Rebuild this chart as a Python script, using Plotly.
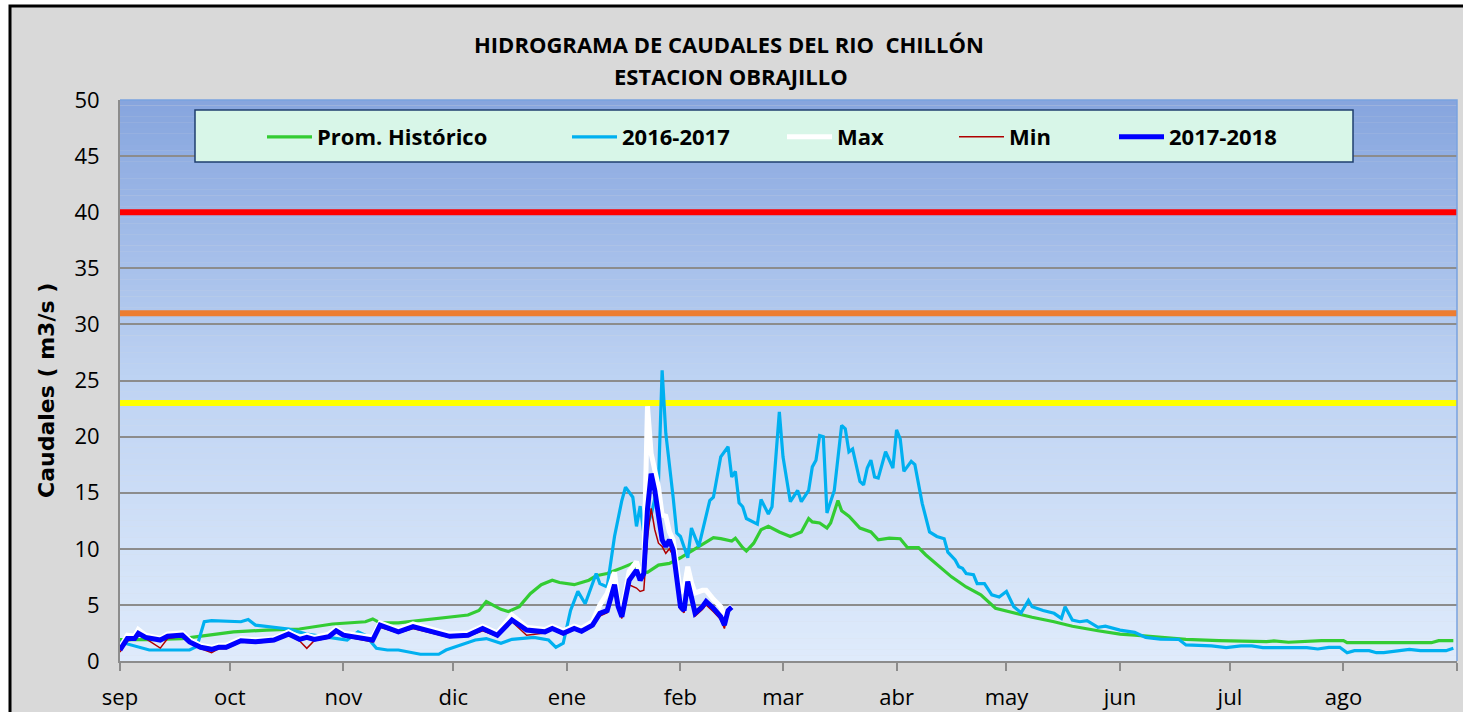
import pandas as pd
import plotly.graph_objects as go

INICIO = pd.Timestamp("2017-09-01")

# ---------------- data (day offset from 1-sep, caudal m3/s) ----------------
prom_dias = [0, 8, 17, 22, 31, 40, 49, 58, 67, 69, 71, 76, 85, 95, 98, 100, 104, 106, 109, 112,
             115, 118, 120, 124, 126, 128, 130, 133, 137, 140, 142, 144, 147, 150, 153, 158, 162, 164,
             167, 168, 170, 171, 173, 175, 177, 180, 183, 186, 188, 189, 191, 193, 194, 196, 197, 199,
             202, 205, 207, 210, 213, 215, 218, 220, 224, 227, 231, 235, 239, 244, 249, 255, 260, 267,
             273, 277, 286, 291, 300, 313, 315, 319, 328, 334, 335, 358, 360, 364]
prom_q = [1.9, 1.9, 2.0, 2.2, 2.6, 2.75, 2.85, 3.3, 3.5, 3.75, 3.4, 3.4, 3.7, 4.1, 4.5, 5.3, 4.6, 4.4, 4.85, 6.0,
          6.8, 7.2, 7.0, 6.8, 7.0, 7.2, 7.6, 7.8, 8.3, 8.7, 8.0, 7.9, 8.55, 8.7, 9.2, 10.2, 11.0, 10.9,
          10.7, 10.95, 10.1, 9.8, 10.5, 11.7, 12.0, 11.5, 11.1, 11.5, 12.7, 12.4, 12.3, 11.85, 12.3, 14.3, 13.4, 12.9,
          11.85, 11.5, 10.8, 10.95, 10.9, 10.1, 10.1, 9.45, 8.3, 7.5, 6.6, 5.9, 4.7, 4.3, 3.9, 3.5, 3.1, 2.7,
          2.4, 2.3, 2.1, 1.93, 1.81, 1.72, 1.8, 1.67, 1.81, 1.81, 1.63, 1.63, 1.81, 1.81]

q1617_dias = [0, 3, 8, 19, 21, 23, 25, 33, 35, 37, 40, 46, 51, 55, 58, 62, 65, 67, 70, 73,
              76, 82, 87, 89, 93, 97, 100, 104, 107, 113, 117, 119, 121, 123, 125, 127, 130, 131, 133, 135,
              137, 138, 140, 141, 142, 143, 145, 147, 148, 149, 151, 152, 153, 155, 156, 158, 161, 162, 164, 166,
              167, 168, 169, 170, 171, 174, 175, 177, 178, 180, 181, 183, 185, 186, 188, 189, 190, 191, 192, 193,
              195, 197, 198, 199, 200, 202, 203, 204, 205, 206, 207, 209, 211, 212, 213, 214, 216, 217, 219, 221,
              223, 225, 226, 228, 229, 230, 231, 233, 234, 236, 238, 240, 242, 244, 246, 248, 249, 252, 255, 257,
              258, 260, 262, 264, 267, 269, 273, 277, 280, 284, 289, 291, 298, 302, 306, 309, 312, 324, 327, 330,
              333, 335, 337, 341, 343, 345, 352, 355, 362, 364]
q1617 = [1.7, 1.43, 0.98, 0.98, 1.3, 3.5, 3.6, 3.5, 3.7, 3.2, 3.06, 2.85, 2.4, 2.2, 2.0, 1.87, 2.6, 2.3, 1.13, 0.98,
         0.98, 0.6, 0.6, 0.98, 1.43, 1.87, 2.0, 1.58, 1.93, 2.1, 1.87, 1.22, 1.58, 4.5, 6.2, 5.1, 7.8, 6.9, 6.6, 11.1,
         14.3, 15.5, 14.6, 12.0, 13.8, 11.4, 13.0, 15.9, 25.9, 20.3, 14.6, 11.4, 11.1, 9.2, 11.85, 10.2, 14.3, 14.6, 18.2, 19.1,
         16.4, 16.9, 14.1, 13.75, 12.7, 12.2, 14.4, 13.1, 13.75, 22.2, 18.2, 14.2, 15.2, 14.2, 15.2, 17.3, 17.9, 20.1, 20.0, 13.2,
         15.2, 21.0, 20.7, 18.65, 18.9, 16.0, 15.7, 17.2, 17.9, 16.4, 16.3, 18.65, 17.2, 20.6, 19.8, 16.9, 17.8, 17.5, 14.05, 11.5,
         11.1, 10.9, 9.7, 9.0, 8.4, 8.26, 7.8, 7.7, 6.9, 6.9, 5.9, 5.7, 6.2, 4.84, 4.3, 5.4, 4.84, 4.5, 4.25, 3.8,
         4.84, 3.65, 3.5, 3.6, 3.0, 3.1, 2.75, 2.55, 2.1, 1.95, 1.93, 1.43, 1.34, 1.19, 1.34, 1.34, 1.19, 1.19, 1.07, 1.22,
         1.22, 0.74, 0.92, 0.92, 0.74, 0.74, 1.04, 0.92, 0.92, 1.13]

q1718_dias = [0, 2, 4, 5, 7, 11, 13, 16, 17, 19, 22, 25, 27, 29, 33, 37, 42, 46, 49, 51,
              53, 57, 59, 61, 66, 69, 71, 74, 76, 80, 85, 90, 95, 99, 103, 107, 111, 116, 118, 121,
              124, 126, 129, 131, 133, 135, 136, 137, 139, 141, 142, 143, 144, 145, 146, 147, 148, 149, 150, 151,
              152, 153, 154, 155, 156, 157, 159, 160, 162, 164, 165, 166, 167]
q1718 = [0.98, 2.0, 2.0, 2.47, 2.1, 1.87, 2.2, 2.2, 2.3, 1.7, 1.22, 1.04, 1.22, 1.22, 1.81, 1.72, 1.87, 2.4, 1.93, 2.1,
         1.93, 2.17, 2.7, 2.3, 2.0, 1.87, 3.2, 2.9, 2.6, 3.06, 2.6, 2.2, 2.3, 2.9, 2.3, 3.65, 2.76, 2.6, 2.9, 2.47,
         2.9, 2.65, 3.2, 4.25, 4.5, 6.8, 4.84, 3.95, 7.2, 8.1, 7.2, 7.8, 13.5, 16.7, 15.2, 12.6, 10.8, 10.2, 10.8, 9.9,
         7.5, 4.84, 4.5, 7.07, 5.7, 4.25, 4.84, 5.3, 4.7, 3.95, 3.2, 4.5, 4.8]
qmax = [1.2, 2.3, 2.2, 2.8, 2.3, 2.0, 2.4, 2.4, 2.5, 1.9, 1.4, 1.2, 1.4, 1.4, 2.0, 1.9, 2.0, 2.6, 2.1, 2.3,
        2.1, 2.4, 2.9, 2.5, 2.2, 2.1, 3.4, 3.1, 2.8, 3.3, 2.8, 2.4, 2.5, 3.1, 2.5, 4.1, 3.0, 2.8, 3.1, 2.7,
        3.1, 2.9, 3.5, 5.0, 6.0, 7.9, 5.2, 4.3, 8.0, 8.85, 7.8, 8.4, 22.7, 18.5, 17.0, 15.5, 13.0, 12.9, 11.5, 10.8,
        8.5, 6.06, 6.5, 8.4, 7.0, 6.06, 6.3, 6.3, 5.5, 4.84, 4.0, 4.6, 4.9]
qmin = [0.8, 1.8, 1.9, 2.3, 2.0, 1.15, 2.0, 2.1, 2.2, 1.6, 1.1, 0.74, 1.1, 1.1, 1.7, 1.6, 1.75, 2.3, 1.8, 1.13,
        1.8, 2.05, 2.6, 2.2, 1.9, 1.7, 3.0, 2.7, 2.5, 2.9, 2.5, 2.1, 2.2, 2.7, 2.2, 3.5, 2.3, 2.5, 2.8, 2.35,
        2.8, 2.55, 3.05, 4.0, 4.3, 6.4, 4.6, 3.8, 6.8, 6.5, 6.2, 6.3, 11.0, 13.6, 11.7, 10.5, 10.2, 9.6, 10.0, 9.4,
        7.0, 4.6, 4.3, 6.7, 5.3, 4.0, 4.6, 5.0, 4.4, 3.7, 2.9, 4.3, 4.7]

umbrales = [40, 31, 23]
umbral_colores = ["#ff0000", "#ed7d31", "#ffff00"]

mes_inicio = ["2017-09-01", "2017-10-01", "2017-11-01", "2017-12-01", "2018-01-01", "2018-02-01",
              "2018-03-01", "2018-04-01", "2018-05-01", "2018-06-01", "2018-07-01", "2018-08-01", "2018-09-01"]
mes_txt = ["sep", "oct", "nov", "dic", "ene", "feb", "mar", "abr", "may", "jun", "jul", "ago", ""]
rango_x = ["2017-09-01", "2018-09-01"]


def fechas(dias):
    return [INICIO + pd.Timedelta(days=d) for d in dias]


# ---------------- layout geometry ----------------
W, H = 1463, 712
ML, MR, MT, MB = 120, 6, 100, 51
PW, PH = W - ML - MR, H - MT - MB


def px_x(px):
    return (px - ML) / PW


def px_y(py):
    return (H - MB - py) / PH


FONT = "Open Sans"

fig = go.Figure()

# threshold lines (drawn first, under the series)
for u, col in zip(umbrales, umbral_colores):
    fig.add_trace(go.Scatter(x=rango_x, y=[u, u], mode="lines", showlegend=False,
                             hoverinfo="skip", line=dict(color=col, width=6)))

series = [
    ("Prom. Histórico", prom_dias, prom_q, "#33cc33", 3.2, "legend"),
    ("2016-2017", q1617_dias, q1617, "#00b0f0", 3.2, "legend2"),
    ("Max", q1718_dias, qmax, "#ffffff", 5, "legend3"),
    ("Min", q1718_dias, qmin, "#b00000", 1.5, "legend4"),
    ("2017-2018", q1718_dias, q1718, "#0000ff", 5, "legend5"),
]
for name, d, v, col, w, lg in series:
    fig.add_trace(go.Scatter(x=fechas(d), y=v, name=name, mode="lines",
                             line=dict(color=col, width=w), legend=lg))

shapes = []
# outer frame
shapes.append(dict(type="rect", xref="paper", yref="paper", layer="below",
                   x0=px_x(10), x1=px_x(1480), y0=px_y(730), y1=px_y(6),
                   fillcolor="#d9d9d9", line=dict(color="black", width=3)))
# gradient plot background
stops = [(0, (223, 235, 251)), (25, (190, 211, 243)), (50, (134, 165, 222))]
N = 100
for i in range(N):
    y0 = 50 * i / N
    y1 = 50 * (i + 1) / N
    ym = (y0 + y1) / 2
    if ym <= 25:
        t = ym / 25
        a, b = stops[0][1], stops[1][1]
    else:
        t = (ym - 25) / 25
        a, b = stops[1][1], stops[2][1]
    c = tuple(round(a[k] + (b[k] - a[k]) * t) for k in range(3))
    shapes.append(dict(type="rect", xref="paper", yref="y", layer="below",
                       x0=0, x1=1, y0=y0, y1=y1 + 0.02,
                       fillcolor="rgb(%d,%d,%d)" % c, line=dict(width=0)))
# plot border top/right
shapes.append(dict(type="path", xref="paper", yref="paper", layer="above",
                   path="M 0,1 L 1,1 L 1,0", line=dict(color="#7aa3df", width=1.5)))
# legend box
shapes.append(dict(type="rect", xref="paper", yref="paper", layer="above",
                   x0=px_x(195), x1=px_x(1353), y0=px_y(162), y1=px_y(110),
                   fillcolor="#d8f6e8", line=dict(color="#1f3f6f", width=1.5)))

legend_px = [268, 573, 788, 960, 1120]
leg_common = dict(orientation="h", xanchor="left", yanchor="middle", bgcolor="rgba(0,0,0,0)",
                  borderwidth=0, itemwidth=45,
                  font=dict(family=FONT, size=22, color="black", weight="bold"))
legends = {}
for i, p in enumerate(legend_px):
    key = "legend" if i == 0 else "legend%d" % (i + 1)
    legends[key] = dict(x=px_x(p - 6), y=px_y(137), **leg_common)

annotations = [
    dict(text="HIDROGRAMA DE CAUDALES DEL RIO  CHILLÓN", xref="paper", yref="paper",
         x=px_x(729), y=px_y(44), showarrow=False, xanchor="center", yanchor="middle",
         font=dict(family=FONT, size=22, color="black", weight="bold")),
    dict(text="ESTACION OBRAJILLO", xref="paper", yref="paper",
         x=px_x(731), y=px_y(76), showarrow=False, xanchor="center", yanchor="middle",
         font=dict(family=FONT, size=22, color="black", weight="bold")),
    dict(text="Caudales ( m3/s )", xref="paper", yref="paper", textangle=-90,
         x=px_x(46), y=px_y(391), showarrow=False, xanchor="center", yanchor="middle",
         font=dict(family="DejaVu Sans", size=22, color="black", weight="bold")),
]

fig.update_layout(
    width=W, height=H, margin=dict(l=ML, r=MR, t=MT, b=MB, autoexpand=False),
    paper_bgcolor="white", plot_bgcolor="#dde9f9",
    showlegend=True, shapes=shapes, annotations=annotations,
    xaxis=dict(type="date", range=rango_x, tickvals=mes_inicio, ticktext=mes_txt, automargin=False,
               showgrid=False, zeroline=False, showline=True, linecolor="#8c8c8c", linewidth=2,
               ticks="outside", ticklen=8, tickwidth=1.5, tickcolor="#8c8c8c", ticklabelstandoff=8,
               tickfont=dict(family=FONT, size=22, color="black")),
    yaxis=dict(range=[0, 50], dtick=5, showgrid=True, gridcolor="#8c8c8c", gridwidth=1.5,
               automargin=False, zeroline=False, showline=True, linecolor="#8c8c8c", linewidth=2,
               ticks="", ticklabelstandoff=14,
               tickfont=dict(family=FONT, size=22, color="black")),
    **legends,
)

fig.write_html("out.html", config={"displayModeBar": False},
               post_script="document.body.style.margin='0px';document.body.style.overflow='hidden';")
